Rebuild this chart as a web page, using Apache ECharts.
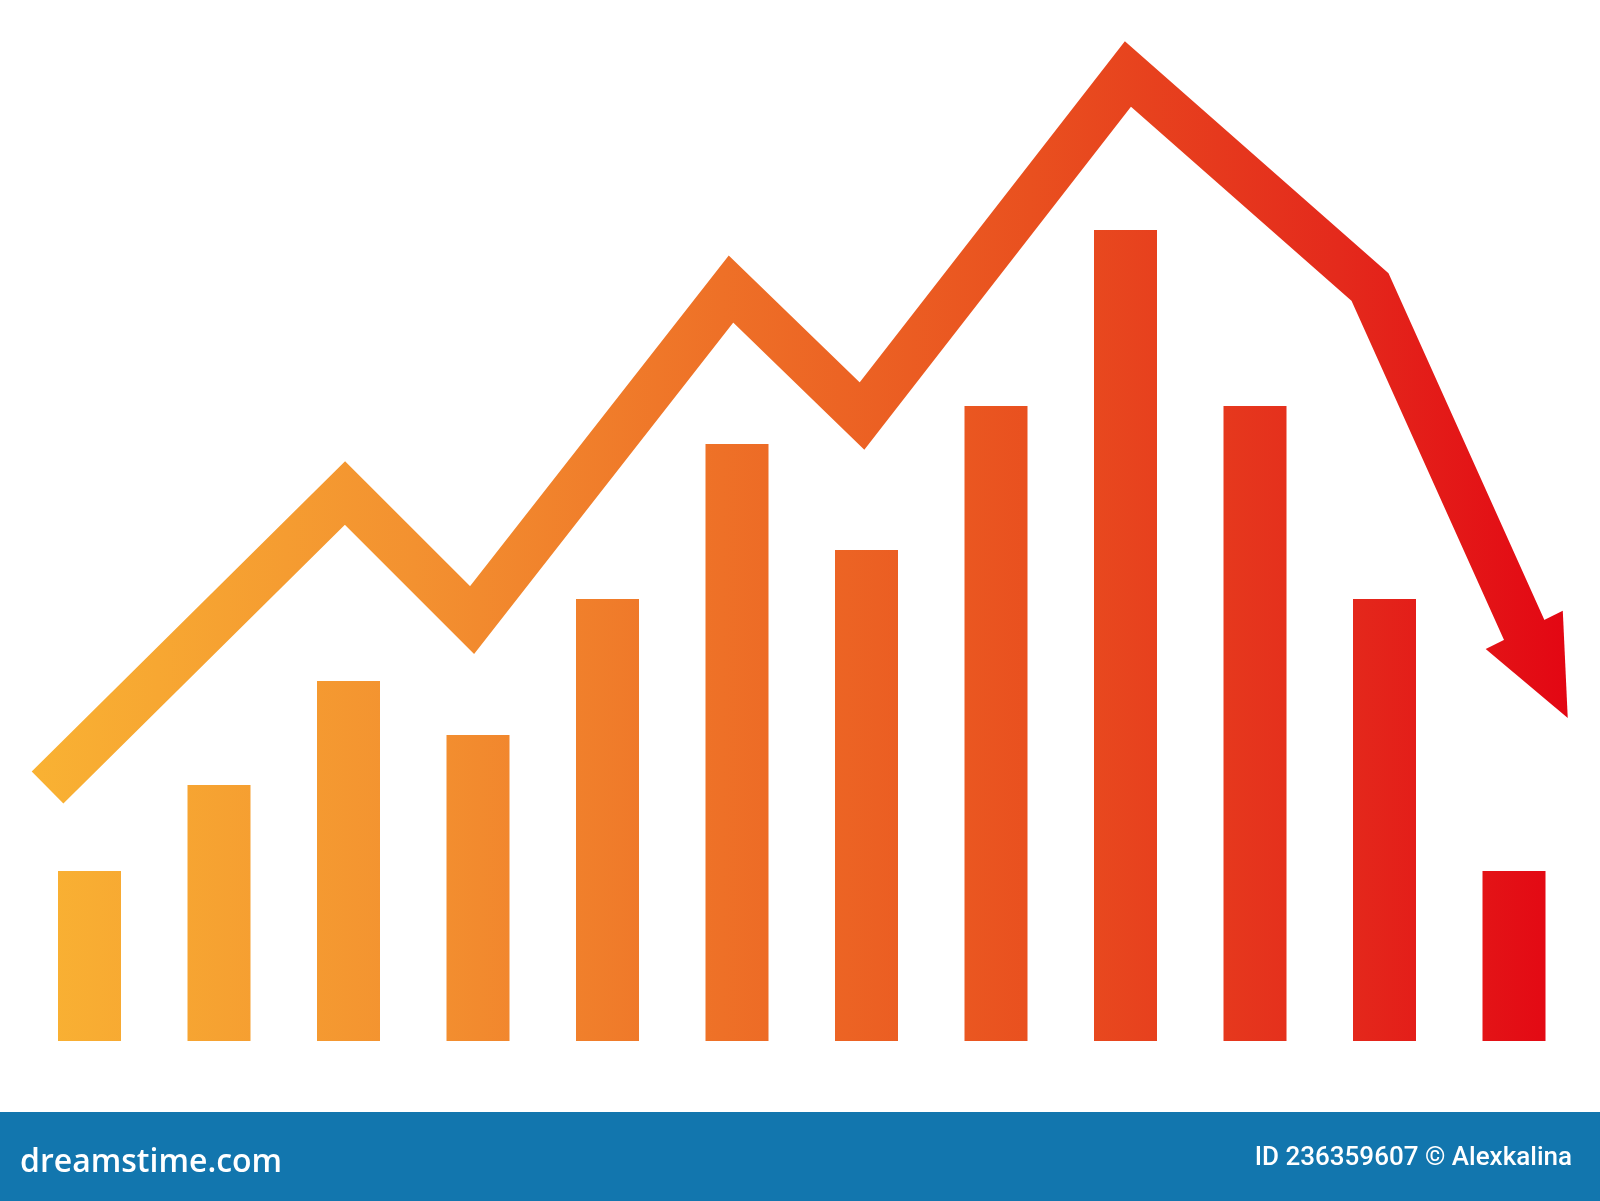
<!DOCTYPE html>
<html>
<head>
<meta charset="utf-8">
<script src="https://cdn.jsdelivr.net/npm/echarts@6/dist/echarts.min.js"></script>
<style>
html,body{margin:0;padding:0;background:#fff;}
#chart{width:1600px;height:1201px;}
</style>
</head>
<body>
<div id="chart"></div>
<script>
// ---- data (units: bar height scale 0..104.1, x positions in category units 0..12) ----
const categories = ['1','2','3','4','5','6','7','8','9','10','11','12'];
const barValues = [17.0, 25.6, 36.0, 30.6, 44.2, 59.7, 49.1, 63.5, 81.1, 63.5, 44.2, 17.0];
const lineX = [0.176, 2.473, 3.454, 5.454, 6.465, 8.519, 10.388, 11.624];
const lineY = [25.35, 54.8, 42.1, 75.2, 62.5, 96.7, 75.4, 39.8];
const arrowHead = [[11.579, 41.11, 11.915, 32.3]]; // base x, base y, tip x, tip y
const footerLeft = 'dreamstime.com';
const footerRight = 'ID 236359607 © Alexkalina';

const grad = () => ({
  type: 'linear', x: 30, y: 0, x2: 1570, y2: 0, global: true,
  colorStops: [
    {offset: 0, color: '#F9B233'},
    {offset: 0.25, color: '#F39130'},
    {offset: 0.45, color: '#EE7027'},
    {offset: 0.65, color: '#E9501F'},
    {offset: 0.85, color: '#E42A1C'},
    {offset: 1, color: '#E30613'}
  ]
});

const chart = echarts.init(document.getElementById('chart'), null, {renderer: 'canvas'});
chart.setOption({
  animation: false,
  backgroundColor: '#ffffff',
  grid: {left: 24.75, right: 21.25, top: 0, bottom: 160, containLabel: false},
  xAxis: [
    {type: 'category', data: categories, show: false},
    {type: 'value', min: 0, max: 12, show: false}
  ],
  yAxis: [{type: 'value', min: 0, max: 104.1, show: false}],
  series: [
    {
      type: 'bar', xAxisIndex: 0, yAxisIndex: 0,
      data: barValues, barWidth: 63,
      itemStyle: {color: grad()}
    },
    {
      type: 'line', xAxisIndex: 1, yAxisIndex: 0, clip: false,
      data: lineX.map((x, i) => [x, lineY[i]]),
      symbol: 'none',
      lineStyle: {width: 45, color: grad(), join: 'miter', cap: 'butt', miterLimit: 10}
    },
    {
      type: 'custom', xAxisIndex: 1, yAxisIndex: 0, clip: false,
      data: arrowHead,
      renderItem: function (params, api) {
        const b = api.coord([api.value(0), api.value(1)]);
        const t = api.coord([api.value(2), api.value(3)]);
        const dx = t[0] - b[0], dy = t[1] - b[1];
        const len = Math.sqrt(dx * dx + dy * dy);
        const px = -dy / len, py = dx / len, hw = 43;
        return {
          type: 'polygon',
          shape: {points: [[b[0] + px * hw, b[1] + py * hw], [t[0], t[1]], [b[0] - px * hw, b[1] - py * hw]]},
          style: {fill: grad()}
        };
      }
    }
  ],
  graphic: [
    {type: 'rect', left: 0, top: 1112, shape: {x: 0, y: 0, width: 1600, height: 89}, style: {fill: '#1276AE'}, z: 10},
    {type: 'text', left: 20, top: 1147, style: {text: footerLeft, fill: '#ffffff', font: '600 32px "Open Sans"'}, z: 11},
    {type: 'text', right: 28, top: 1145, style: {text: footerRight, fill: '#ffffff', font: '500 26px Roboto'}, z: 11}
  ]
});
</script>
</body>
</html>
